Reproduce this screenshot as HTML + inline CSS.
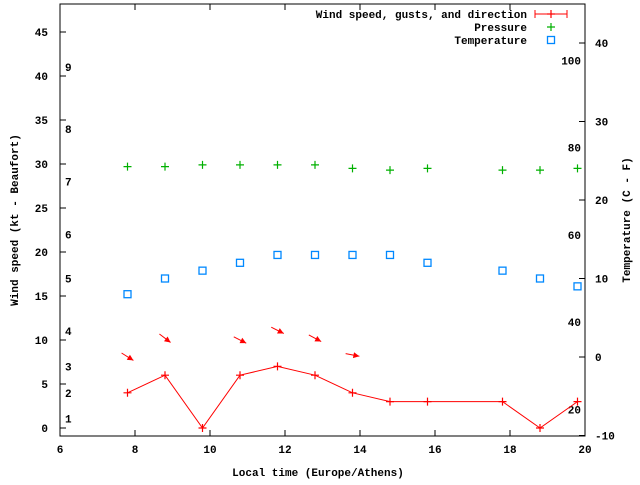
<!DOCTYPE html>
<html><head><meta charset="utf-8"><style>
body{margin:0;background:#fff}
text{font-family:"Liberation Mono",monospace;font-size:11px;font-weight:bold;fill:#000}
</style></head><body>
<svg id="c" width="640" height="480"></svg>
<script>
const hours=[7.8,8.8,9.8,10.8,11.8,12.8,13.8,14.8,15.8,17.8,18.8,19.8];
const wind=[4,6,0,6,7,6,4,3,3,3,0,3];
const pressure=[29.7,29.7,29.9,29.9,29.9,29.9,29.5,29.3,29.5,29.3,29.3,29.5];
const temp=[8,10,11,12,13,13,13,13,12,11,10,9];
const arrowHours=[7.8,8.8,10.8,11.8,12.8,13.8];
const arrowGust=[8.1,10.2,10,11.1,10.2,8.3];
const arrowAngle=[32,37,27,27,28,11];
const xTicks=[6,8,10,12,14,16,18,20];
const yTicks=[0,5,10,15,20,25,30,35,40,45];
const y2Ticks=[-10,0,10,20,30,40];
const bftLabels=["1","2","3","4","5","6","7","8","9"];
const bftVals=[1.1,4,7,11,17,22,28,34,41];
const fLabels=["20","40","60","80","100"];
const fVals=[20,40,60,80,100];
const L=60,R=585,T=4,B=436;
const X=h=>L+(h-6)*(R-L)/14;
const Y=v=>428-v*8.8;
const Y2=v=>357-v*7.85;
const F=f=>Y2((f-32)*5/9);
const svg=document.getElementById('c');const NS='http://www.w3.org/2000/svg';
function el(t,a,txt){const e=document.createElementNS(NS,t);for(const k in a)e.setAttribute(k,a[k]);if(txt!==undefined)e.textContent=txt;svg.appendChild(e);return e;}
let e;
e=el('rect',{x:L,y:T,width:R-L,height:B-T,fill:'none',stroke:'#000'});


xTicks.forEach(t=>{const x=X(t);el('line',{x1:x,x2:x,y1:B,y2:B-6,stroke:'#000'});el('line',{x1:x,x2:x,y1:T,y2:T+6,stroke:'#000'});
e=el('text',{x:x,y:B+17,'text-anchor':'middle'},t);

});
yTicks.forEach(t=>{const y=Y(t);el('line',{x1:L,x2:L+6,y1:y,y2:y,stroke:'#000'});
e=el('text',{x:L-12,y:y+4,'text-anchor':'end'},t);

});
y2Ticks.forEach(t=>{const y=Y2(t);el('line',{x1:R,x2:R-6,y1:y,y2:y,stroke:'#000'});
e=el('text',{x:R+10,y:y+4},t);

});
bftLabels.forEach((b,i)=>{e=el('text',{x:65,y:Y(bftVals[i])+4},b);

});
fLabels.forEach((f,i)=>{e=el('text',{x:581,y:F(fVals[i])+4,'text-anchor':'end'},f);

});
e=el('text',{x:318,y:476,'text-anchor':'middle'},'Local time (Europe/Athens)');


e=el('text',{x:0,y:0,'text-anchor':'middle',transform:'translate(18,220) rotate(-90)'},'Wind speed (kt - Beaufort)');


e=el('text',{x:0,y:0,'text-anchor':'middle',transform:'translate(630,220) rotate(-90)'},'Temperature (C - F)');


e=el('polyline',{points:hours.map((h,i)=>X(h)+','+Y(wind[i])).join(' '),fill:'none',stroke:'#f00'});


function plus(x,y,c,n){e=el('path',{d:`M${x-4},${y}h8M${x},${y-4}v8`,stroke:c,'stroke-width':1.2});

}
hours.forEach((h,i)=>plus(X(h),Y(wind[i]),'#f00','wind-point'));
hours.forEach((h,i)=>plus(X(h),Y(pressure[i]),'#00b000','pressure-point'));
hours.forEach((h,i)=>{e=el('rect',{x:X(h)-3.5,y:Y2(temp[i])-3.5,width:7,height:7,fill:'none',stroke:'#08f','stroke-width':1.3});

});
arrowHours.forEach((h,i)=>{const cx=X(h),cy=Y(arrowGust[i]);const a=arrowAngle[i]*Math.PI/180;const dx=Math.cos(a)*7,dy=Math.sin(a)*7;
const x2=cx+dx,y2=cy+dy;const px=-Math.sin(a)*3,py=Math.cos(a)*3;const bx=x2-Math.cos(a)*6,by=y2-Math.sin(a)*6;
const g=document.createElementNS(NS,'g');svg.appendChild(g);


const l=document.createElementNS(NS,'line');l.setAttribute('x1',cx-dx);l.setAttribute('y1',cy-dy);l.setAttribute('x2',x2);l.setAttribute('y2',y2);l.setAttribute('stroke','#f00');g.appendChild(l);
const p=document.createElementNS(NS,'polygon');p.setAttribute('points',`${x2},${y2} ${bx+px},${by+py} ${bx-px},${by-py}`);p.setAttribute('fill','#f00');g.appendChild(p);});
const lg=[['Wind speed, gusts, and direction',14],['Pressure',27],['Temperature',40]];
lg.forEach(([t,y])=>{e=el('text',{x:527,y:y+4,'text-anchor':'end'},t);

});
e=el('path',{d:'M535,14h32M535,10v8M567,10v8',stroke:'#f00'});


plus(551,14,'#f00','legend-wind-point');
plus(551,27,'#00b000','legend-pressure-key');
e=el('rect',{x:547.5,y:36.5,width:7,height:7,fill:'none',stroke:'#08f','stroke-width':1.3});


</script>
</body></html>
